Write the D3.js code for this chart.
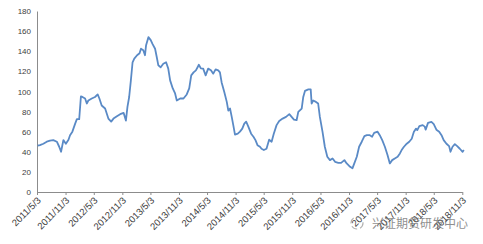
<!DOCTYPE html>
<html>
<head>
<meta charset="utf-8">
<script src="https://cdn.jsdelivr.net/npm/d3@7"></script>
<style>
  body { margin: 0; background: #fff; }
  .axis text { font-family: "Liberation Sans", Arial, sans-serif; font-size: 8px; fill: #404040; }
  .x-axis text { font-size: 9.5px; }
</style>
</head>
<body>
<div id="chart"></div>
<script>
const dates = [
  "2011-05-07","2011-05-22","2011-06-13","2011-07-05","2011-07-26","2011-08-16","2011-09-08","2011-09-23","2011-10-05","2011-10-20",
  "2011-11-05","2011-11-22","2011-12-02","2011-12-17","2012-01-04","2012-01-15","2012-01-30","2012-02-10","2012-02-20","2012-03-08",
  "2012-03-19","2012-03-29","2012-04-20","2012-05-11","2012-05-28","2012-06-08","2012-06-23","2012-07-15","2012-08-05","2012-08-23",
  "2012-09-07","2012-09-29","2012-10-20","2012-11-11","2012-11-26","2012-12-06","2012-12-17","2012-12-28","2013-01-08","2013-01-19",
  "2013-02-06","2013-02-22","2013-03-03","2013-03-18","2013-03-29","2013-04-05","2013-04-20","2013-05-05","2013-05-17","2013-06-02",
  "2013-06-13","2013-06-23","2013-07-08","2013-07-25","2013-08-12","2013-08-26","2013-09-07","2013-09-24","2013-10-09","2013-10-20",
  "2013-11-11","2013-12-02","2013-12-23","2014-01-08","2014-01-21","2014-02-05","2014-02-20","2014-03-03","2014-03-11","2014-03-24",
  "2014-04-08","2014-04-24","2014-05-10","2014-05-28","2014-06-12","2014-06-27","2014-07-14","2014-07-25","2014-08-05","2014-08-22",
  "2014-09-07","2014-09-17","2014-09-28","2014-10-09","2014-10-19","2014-10-30","2014-11-17","2014-12-01","2014-12-16","2014-12-29",
  "2015-01-10","2015-01-24","2015-02-11","2015-02-26","2015-03-11","2015-03-24","2015-04-09","2015-04-19","2015-05-04","2015-05-21",
  "2015-06-07","2015-06-23","2015-07-07","2015-07-25","2015-08-11","2015-09-02","2015-09-24","2015-10-15","2015-10-30","2015-11-14",
  "2015-12-01","2015-12-12","2016-01-03","2016-01-13","2016-01-24","2016-02-15","2016-03-01","2016-03-07","2016-03-17","2016-04-04",
  "2016-04-18","2016-04-29","2016-05-16","2016-05-31","2016-06-16","2016-07-03","2016-07-20","2016-08-05","2016-08-26","2016-09-13",
  "2016-10-04","2016-10-19","2016-11-10","2016-11-25","2016-12-07","2016-12-23","2017-01-07","2017-01-24","2017-02-10","2017-02-26",
  "2017-03-17","2017-04-01","2017-04-14","2017-05-06","2017-05-20","2017-06-05","2017-06-22","2017-07-09","2017-07-24","2017-08-08",
  "2017-08-25","2017-09-12","2017-09-27","2017-10-08","2017-10-23","2017-11-10","2017-11-26","2017-12-12","2017-12-26","2018-01-09",
  "2018-01-17","2018-01-30","2018-02-21","2018-03-06","2018-03-12","2018-03-27","2018-04-18","2018-05-03","2018-05-20","2018-06-07",
  "2018-06-22","2018-07-06","2018-07-24","2018-08-10","2018-08-19","2018-09-01","2018-09-16","2018-10-01","2018-10-18","2018-11-05",
  "2018-11-13"
]
const values = [
  46, 46.6, 48, 50, 51, 51.6, 50, 45, 40, 51.6,
  48, 52, 56.5, 60, 68, 72.4, 72.4, 95, 94.5, 93,
  88, 91, 93, 94.5, 97, 93, 86, 83, 73, 70,
  73, 75.4, 77.4, 78.7, 71, 84.6, 94.5, 111, 129, 132.6,
  136, 138, 142.5, 141, 136, 146, 154, 151, 147, 142.5,
  134, 126, 124, 127.6, 129, 122.7, 111, 103, 98, 91,
  93, 93, 97, 103, 116, 119, 121, 124, 126.6, 123,
  122.7, 116, 122.7, 121, 117.7, 122, 121, 119, 109, 99.5,
  89.6, 81, 83, 74.7, 66.5, 57, 58, 60, 63, 68,
  70, 65, 58, 55, 51.6, 46.6, 45, 43, 41.7, 43,
  52, 50, 58, 66.5, 70.7, 73, 74.7, 77.4, 74.7, 72,
  71.4, 79.7, 83, 94.5, 100.5, 102, 102, 88, 91, 89.6,
  88, 74.7, 60, 45, 35, 31.7, 33.4, 30, 29, 29,
  31.7, 28.4, 25, 23.5, 28.4, 35, 45, 50, 55.5, 56.5,
  56.5, 55, 58.8, 60, 56.5, 51.6, 45, 36.7, 28.4, 31.7,
  33.4, 35, 38.4, 41.7, 45, 48, 50, 53, 60, 63,
  61.5, 65.5, 66.5, 65, 62, 68.7, 69.7, 67.5, 62, 60,
  56.5, 51.6, 48, 45.6, 40, 45, 47.6, 45.6, 43, 40,
  41.7
]
const xTickLabels = [
  "2011/5/3","2011/11/3","2012/5/3","2012/11/3","2013/5/3","2013/11/3","2014/5/3","2014/11/3",
  "2015/5/3","2015/11/3","2016/5/3","2016/11/3","2017/5/3","2017/11/3","2018/5/3","2018/11/3"
]
const yTicks = [0, 20, 40, 60, 80, 100, 120, 140, 160, 180]
const watermark = "兴证期货研发中心"

const parseDate = d3.timeParse("%Y-%m-%d")
const parseTick = d3.timeParse("%Y/%m/%d")

const dimensions = {
  width: 483,
  height: 244,
  margin: { top: 11, bottom: 52, right: 20, left: 37 }
}
dimensions.ctrWidth = 462.3 - dimensions.margin.left
dimensions.ctrHeight = 181

const dataSet = dates.map((d, i) => ({ date: parseDate(d), value: values[i] }))
const tickDates = xTickLabels.map(parseTick)

const svg = d3.select('#chart')
  .append('svg')
  .attr('width', dimensions.width)
  .attr('height', dimensions.height)

const ctr = svg.append('g')
  .attr('transform', `translate(${dimensions.margin.left}, ${dimensions.margin.top})`)

const xScale = d3.scaleTime()
  .domain([tickDates[0], tickDates[tickDates.length - 1]])
  .range([0, dimensions.ctrWidth])

const yScale = d3.scaleLinear()
  .domain([0, 180])
  .range([dimensions.ctrHeight, 0])

// y axis: labels and the line, no tick marks
const yAxis = d3.axisLeft(yScale)
  .tickValues(yTicks)
  .tickSize(0)
  .tickPadding(6)

const yAxisGroup = ctr.append('g')
  .call(yAxis)
  .classed('axis', true)
yAxisGroup.select('.domain').attr('stroke', '#8c8c8c')

const xAxis = d3.axisBottom(xScale)
  .tickValues(tickDates)
  .tickSize(3)
  .tickSizeOuter(0)
  .tickFormat((d, i) => xTickLabels[i])

const xAxisGroup = ctr.append('g')
  .attr('transform', `translate(0, ${dimensions.ctrHeight})`)
  .call(xAxis)
  .classed('axis', true)
  .classed('x-axis', true)
xAxisGroup.select('.domain').attr('stroke', '#8c8c8c')
xAxisGroup.selectAll('.tick line').attr('stroke', '#8c8c8c')
xAxisGroup.selectAll('text')
  .attr('text-anchor', 'end')
  .attr('dy', 0)
  .attr('y', 0)
  .attr('transform', 'translate(4, 9) rotate(-45)')

const line = d3.line()
  .x(d => xScale(d.date))
  .y(d => yScale(d.value))

ctr.append('path')
  .datum(dataSet)
  .attr('d', line)
  .attr('fill', 'none')
  .attr('stroke', '#5a8ac6')
  .attr('stroke-width', 1.8)
  .attr('stroke-linejoin', 'round')

// watermark in the corner
const wm = svg.append('g').attr('opacity', 0.75)
wm.append('circle')
  .attr('cx', 357).attr('cy', 223).attr('r', 6)
  .attr('fill', 'none').attr('stroke', '#999').attr('stroke-width', 1.2)
  .attr('stroke-dasharray', '6 3')
wm.append('text')
  .attr('x', 372).attr('y', 228)
  .attr('font-family', '"Noto Sans CJK SC", sans-serif')
  .attr('font-size', 12)
  .attr('fill', '#6a6a6a')
  .text(watermark)
</script>
</body>
</html>
